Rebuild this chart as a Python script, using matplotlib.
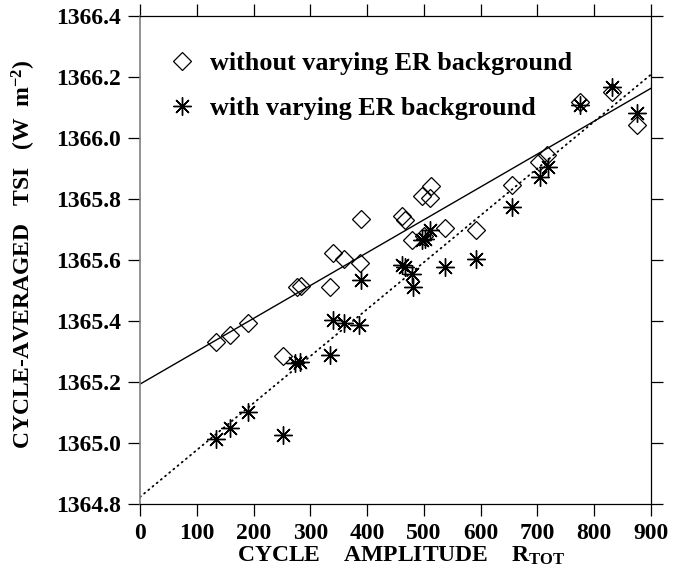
import numpy as np
import matplotlib
matplotlib.use("Agg")
import matplotlib.pyplot as plt
from matplotlib.lines import Line2D

# ---------------- data ----------------
amp_without = [134, 158, 191, 251, 276, 283, 335, 340, 359, 388, 390, 462, 466,
               479, 500, 496, 510, 512, 537, 592, 655, 702, 716, 775, 832, 875]
tsi_without = [1365.330, 1365.353, 1365.392, 1365.286, 1365.512, 1365.515,
               1365.512, 1365.624, 1365.602, 1365.589, 1365.733, 1365.744,
               1365.731, 1365.666, 1365.680, 1365.811, 1365.802, 1365.842,
               1365.704, 1365.700, 1365.846, 1365.922, 1365.944, 1366.119,
               1366.152, 1366.043]

amp_with = [134, 158, 191, 251, 273, 281, 335, 340, 359, 386, 390, 461, 466,
            479, 481, 496, 502, 511, 537, 592, 655, 704, 719, 775, 832, 875]
tsi_with = [1365.012, 1365.048, 1365.103, 1365.026, 1365.262, 1365.266,
            1365.289, 1365.403, 1365.392, 1365.387, 1365.534, 1365.584,
            1365.578, 1365.555, 1365.512, 1365.666, 1365.670, 1365.698,
            1365.578, 1365.604, 1365.775, 1365.873, 1365.906, 1366.108,
            1366.166, 1366.081]

# linear fits (intercept, slope)
fit_without = [1365.193, 0.0010778]
fit_with = [1364.823, 0.001539]

x_ticks = [0, 100, 200, 300, 400, 500, 600, 700, 800, 900]
y_ticks = [1364.8, 1365.0, 1365.2, 1365.4, 1365.6, 1365.8, 1366.0, 1366.2, 1366.4]

label_without = "without varying ER background"
label_with = "with varying ER background"
xlabel = "CYCLE    AMPLITUDE    R$_{\\mathrm{TOT}}$"
ylabel = "CYCLE-AVERAGED   TSI   (W  m$^{\\mathrm{-2}}$)"

# ---------------- style ----------------
plt.rcParams['font.family'] = ['Liberation Serif', 'DejaVu Serif']
plt.rcParams['font.weight'] = 'bold'
plt.rcParams['mathtext.fontset'] = 'custom'
plt.rcParams['mathtext.rm'] = 'Liberation Serif:bold'
plt.rcParams['mathtext.bf'] = 'Liberation Serif:bold'
plt.rcParams['mathtext.it'] = 'Liberation Serif:bold'

W, H = 686, 584
fig = plt.figure(figsize=(W / 100, H / 100), dpi=100)
L, R, T, B = 140, 651, 16, 504
ax = fig.add_axes([L / W, 1 - B / H, (R - L) / W, (B - T) / H])

star = (8, 2, 0)

ax.plot(amp_without, tsi_without, linestyle='none', marker='D', ms=9.0,
        mfc='none', mec='black', mew=0.9, clip_on=False)
ax.plot(amp_with, tsi_with, linestyle='none', marker=star, ms=13,
        mec='black', mfc='black', mew=1.0, clip_on=False)

xx = np.array([x_ticks[0], x_ticks[-1]], dtype=float)
ax.plot(xx, fit_without[0] + fit_without[1] * xx, color='black', lw=1.0)
ax.plot(xx, fit_with[0] + fit_with[1] * xx, color='black', lw=1.3,
        linestyle=(0, (0.6, 2.4)), dash_capstyle='round')

ax.set_xlim(x_ticks[0], x_ticks[-1])
ax.set_ylim(y_ticks[0], y_ticks[-1])
ax.set_xticks(x_ticks)
ax.set_yticks(y_ticks)
ax.set_xticklabels([str(v) for v in x_ticks])
ax.set_yticklabels(["%.1f" % v for v in y_ticks])

for s in ax.spines.values():
    s.set_linewidth(0.9)
    s.set_color('black')
ax.spines['left'].set_color('#808080')
ax.spines['left'].set_linewidth(1.2)

ax.tick_params(axis='both', which='major', direction='out', length=8.5,
               width=0.9, color='black', top=True, right=True, labelsize=17)
ax.tick_params(axis='x', pad=5)
ax.tick_params(axis='y', pad=5)

ax.set_xlabel(xlabel, fontsize=17, fontweight='bold')
ax.set_ylabel(ylabel, fontsize=17, fontweight='bold')
ax.xaxis.set_label_coords(0.511, -0.084)
ax.yaxis.set_label_coords(-0.20, 0.512)

handles = [
    Line2D([], [], linestyle='none', marker='D', ms=9.0, mfc='none',
           mec='black', mew=0.9),
    Line2D([], [], linestyle='none', marker=star, ms=13, mec='black',
           mew=1.0),
]
ax.legend(handles, [label_without, label_with], loc='upper left',
          bbox_to_anchor=(0.057, 0.926), frameon=False, borderaxespad=0,
          borderpad=0, handlelength=1.0, handletextpad=0.58,
          labelspacing=0.83, prop={'family': 'Liberation Serif',
                                   'weight': 'bold', 'size': 18.8})

fig.savefig("out.png", dpi=100)
